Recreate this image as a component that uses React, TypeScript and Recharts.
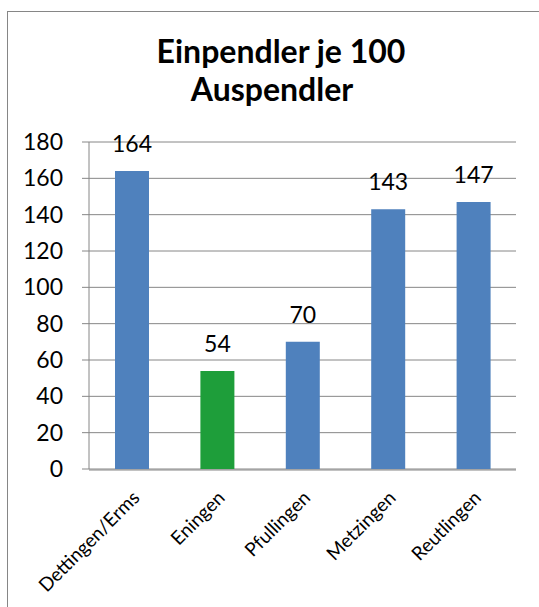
import React from 'react';
import { BarChart, Bar, Cell, XAxis, YAxis, CartesianGrid, LabelList } from 'recharts';

// Einpendler je 100 Auspendler, by town
const towns = ['Dettingen/Erms', 'Eningen', 'Pfullingen', 'Metzingen', 'Reutlingen'];
const commuterRatio = [164, 54, 70, 143, 147];
const highlightedTown = 'Eningen';
const yTicks = [0, 20, 40, 60, 80, 100, 120, 140, 160, 180];
// band edges, used only for the tick marks between the categories
const bandEdges = [0, 1, 2, 3, 4, 5];

const data = towns.map((town, i) => ({ town, value: commuterRatio[i] }));

const FONT = 'Lato, "Open Sans", sans-serif';
const GRID = '#868686';
const BLUE = '#4F81BD';
const GREEN = '#1E9E3A';

const AngledTick = ({ x, y, payload }: any) => (
  <g transform={`translate(${x + 9},${y + 30})`}>
    <text textAnchor="end" transform="rotate(-45)" fontFamily={FONT} fontSize={19} fill="#000">
      {payload.value}
    </text>
  </g>
);

const titleStyle: React.CSSProperties = {
  position: 'absolute',
  width: 400,
  textAlign: 'center',
  fontFamily: FONT,
  fontWeight: 700,
  fontSize: 32,
  color: '#000',
  lineHeight: '38px',
  whiteSpace: 'nowrap',
};

export default function App() {
  return (
    <div style={{ position: 'absolute', left: 0, top: 0, width: 539, height: 607, overflow: 'hidden', background: '#fff' }}>
      <div
        style={{
          position: 'absolute',
          left: 7,
          top: 11,
          width: 560,
          height: 640,
          border: `1.5px solid ${GRID}`,
          boxSizing: 'border-box',
        }}
      />
      <div style={{ ...titleStyle, left: 81, top: 32 }}>Einpendler je 100</div>
      <div style={{ ...titleStyle, left: 72, top: 70 }}>Auspendler</div>
      <div style={{ position: 'absolute', left: 0, top: 0 }}>
        <BarChart width={539} height={607} data={data} margin={{ top: 142, right: 23, bottom: 136, left: 29 }}>
          <CartesianGrid vertical={false} stroke={GRID} strokeWidth={1} />
          <XAxis
            xAxisId="edges"
            type="number"
            domain={[0, 5]}
            ticks={bandEdges}
            allowDataOverflow
            height={1}
            axisLine={{ stroke: GRID }}
            tick={false}
            tickSize={6}
            tickLine={{ stroke: GRID }}
          />
          <XAxis
            dataKey="town"
            height={1}
            interval={0}
            tickSize={0}
            tickMargin={0}
            tickLine={false}
            axisLine={false}
            tick={<AngledTick />}
          />
          <YAxis
            width={60}
            domain={[0, 180]}
            ticks={yTicks}
            interval={0}
            tickSize={7}
            tickMargin={19}
            axisLine={{ stroke: GRID }}
            tickLine={{ stroke: GRID }}
            tick={{ fontFamily: FONT, fontSize: 23, fill: '#000' }}
          />
          <Bar dataKey="value" barSize={34} isAnimationActive={false}>
            {data.map((d) => (
              <Cell key={d.town} fill={d.town === highlightedTown ? GREEN : BLUE} />
            ))}
            <LabelList dataKey="value" position="top" offset={19} fontFamily={FONT} fontSize={23} fill="#000" />
          </Bar>
        </BarChart>
      </div>
    </div>
  );
}
